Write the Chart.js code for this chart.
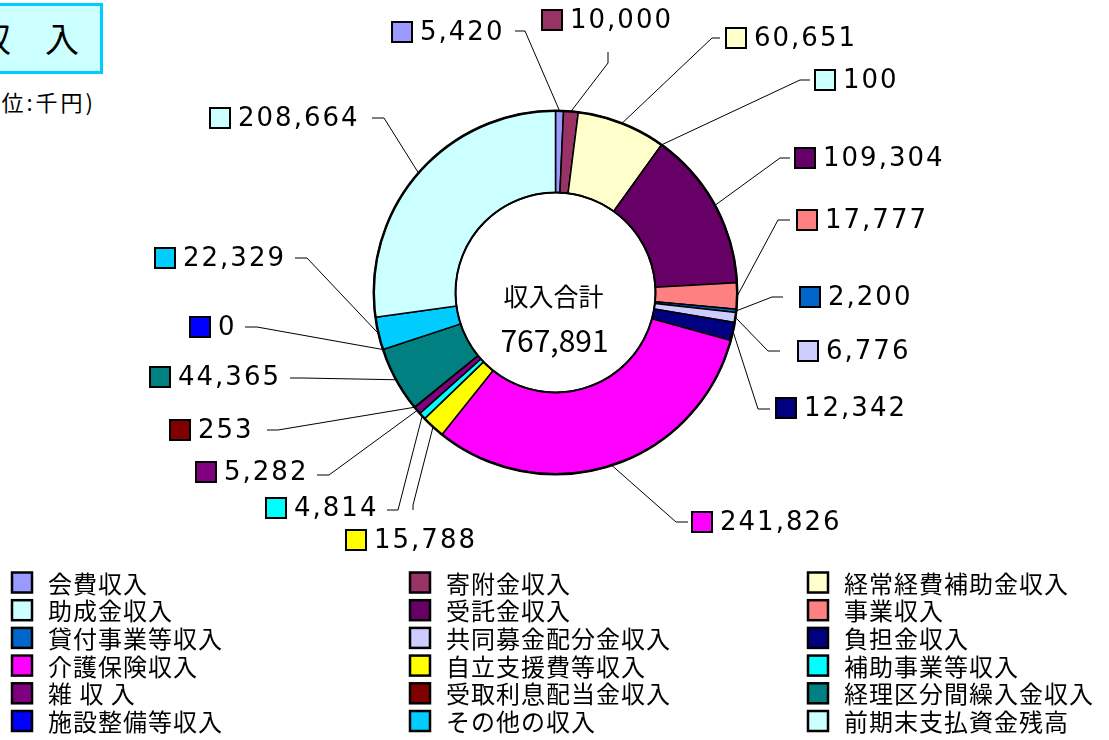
<!DOCTYPE html>
<html lang="ja">
<head>
<meta charset="utf-8">
<title>収入</title>
<script src="https://cdn.jsdelivr.net/npm/chart.js@4.4.1/dist/chart.umd.min.js"></script>
<style>
    body { margin: 0; background: #fff; width: 1109px; height: 740px; overflow: hidden; position: relative; font-family: "Noto Sans CJK JP", sans-serif; }
    #titulo { position: absolute; left: -70px; top: 3px; width: 173px; height: 71px; box-sizing: border-box; border: 3px solid #00ccff; background: #ccffff; font-size: 34px; line-height: 63px; color: #000; padding-left: 44px; white-space: nowrap; }
    #unidad { position: absolute; right: calc(1109px - 96px); top: 85px; font-size: 22px; letter-spacing: 3px; white-space: nowrap; color: #000; }
    canvas { position: absolute; left: 0; top: 0; }
</style>
</head>
<body>
<div id="titulo">収　入</div>
<div id="unidad">(単位:千円)</div>
<canvas id="grafico" width="1109" height="740"></canvas>
<script>
// Datos del gráfico (miles de yenes)
const categorias = ['会費収入', '寄附金収入', '経常経費補助金収入', '助成金収入', '受託金収入', '事業収入',
    '貸付事業等収入', '共同募金配分金収入', '負担金収入', '介護保険収入', '自立支援費等収入', '補助事業等収入',
    '雑 収 入', '受取利息配当金収入', '経理区分間繰入金収入', '施設整備等収入', 'その他の収入', '前期末支払資金残高'];
const valores = [5420, 10000, 60651, 100, 109304, 17777, 2200, 6776, 12342, 241826, 15788, 4814, 5282, 253, 44365, 0, 22329, 208664];
const colores = ['#9999ff', '#993366', '#ffffcc', '#ccffff', '#660066', '#ff8080', '#0066cc', '#ccccff', '#000080',
    '#ff00ff', '#ffff00', '#00ffff', '#800080', '#800000', '#008080', '#0000ff', '#00ccff', '#ccffff'];
const textoCentro = '収入合計';

// Ubicación de etiquetas: [caja x, centro y, línea x1, y1, codo x2, y2]
const etiquetasPos = [
    [392, 32, 515, 31, 525, 31],
    [542, 20, 608, 52, 608, 63],
    [726, 38, 720, 38, 712, 38],
    [815, 80, 810, 80, 800, 80],
    [795, 158, 790, 158, 780, 158],
    [797, 220, 790, 220, 778, 220],
    [800, 297, 783, 297, 772, 297],
    [798, 351, 780, 351, 768, 351],
    [776, 408, 770, 409, 758, 409],
    [692, 522, 688, 522, 676, 522],
    [346, 540, 413, 510, 413, 505],
    [266, 508, 387, 510, 398, 510],
    [196, 472, 317, 475, 329, 475],
    [170, 430, 267, 430, 278, 430],
    [150, 377, 290, 378, 302, 378],
    [190, 327, 245, 327, 257, 327],
    [155, 258, 295, 258, 307, 258],
    [210, 118, 372, 118, 384, 118]
];

const fmt = n => n.toLocaleString('en-US');

// Plugin: líneas guía, etiquetas, texto central y leyenda
const pluginEtiquetas = {
    id: 'etiquetas',
    afterDatasetsDraw(chart) {
        const ctx = chart.ctx;
        const arcos = chart.getDatasetMeta(0).data;
        const a0 = arcos[0];

        ctx.save();
        ctx.strokeStyle = '#000';

        // bordes exterior e interior más gruesos
        ctx.lineWidth = 2.5;
        ctx.beginPath();
        ctx.arc(a0.x, a0.y, a0.outerRadius, 0, Math.PI * 2);
        ctx.stroke();
        ctx.lineWidth = 2;
        ctx.beginPath();
        ctx.arc(a0.x, a0.y, a0.innerRadius, 0, Math.PI * 2);
        ctx.stroke();

        ctx.font = '26px "DejaVu Sans"';
        ctx.letterSpacing = '2px';
        ctx.textBaseline = 'middle';
        ctx.textAlign = 'left';

        arcos.forEach((arco, i) => {
            const p = etiquetasPos[i];
            const ang = (arco.startAngle + arco.endAngle) / 2;
            const ex = arco.x + Math.cos(ang) * arco.outerRadius;
            const ey = arco.y + Math.sin(ang) * arco.outerRadius;

            ctx.lineWidth = 1;
            ctx.beginPath();
            ctx.moveTo(p[2], p[3]);
            ctx.lineTo(p[4], p[5]);
            ctx.lineTo(ex, ey);
            ctx.stroke();

            ctx.fillStyle = colores[i];
            ctx.fillRect(p[0], p[1] - 10, 20, 20);
            ctx.lineWidth = 2;
            ctx.strokeRect(p[0], p[1] - 10, 20, 20);

            ctx.fillStyle = '#000';
            ctx.fillText(fmt(valores[i]), p[0] + 28, p[1] + 1);
        });

        // texto central
        const total = valores.reduce((s, v) => s + v, 0);
        ctx.letterSpacing = '0px';
        ctx.textAlign = 'center';
        ctx.font = '25px "Noto Sans CJK JP"';
        ctx.fillText(textoCentro, a0.x - 2, 296);
        ctx.font = '30px "Noto Sans CJK JP"';
        ctx.fillText(fmt(total), a0.x - 1, 341);

        // leyenda en tres columnas
        const colX = [12, 410, 808];
        ctx.textAlign = 'left';
        ctx.font = '24px "Noto Sans CJK JP"';
        ctx.letterSpacing = '1px';
        categorias.forEach((cat, i) => {
            const x = colX[i % 3];
            const y = 582.5 + Math.floor(i / 3) * 27.7;
            ctx.fillStyle = colores[i];
            ctx.fillRect(x, y - 10, 20, 20);
            ctx.lineWidth = 2.5;
            ctx.strokeRect(x, y - 10, 20, 20);
            ctx.fillStyle = '#000';
            ctx.fillText(cat, x + 36, y + 1);
        });
        ctx.restore();
    }
};

new Chart(document.getElementById('grafico'), {
    type: 'doughnut',
    data: {
        labels: categorias,
        datasets: [{
            data: valores,
            backgroundColor: colores,
            borderColor: '#000',
            borderWidth: 1.5
        }]
    },
    options: {
        responsive: false,
        devicePixelRatio: 1,
        animation: false,
        events: [],
        cutout: '55%',
        layout: { padding: { left: 373, right: 371, top: 110, bottom: 265 } },
        plugins: { legend: { display: false }, tooltip: { enabled: false } }
    },
    plugins: [pluginEtiquetas]
});
</script>
</body>
</html>
